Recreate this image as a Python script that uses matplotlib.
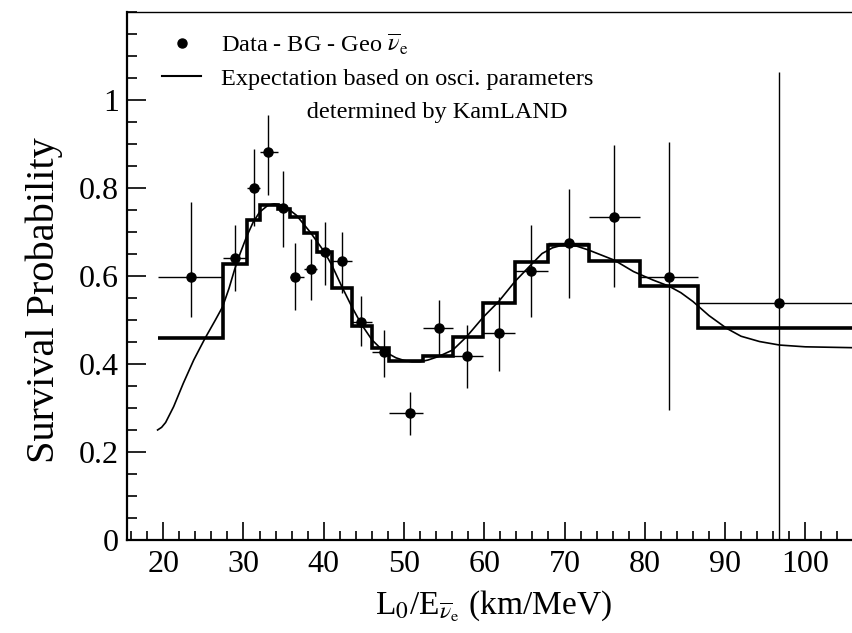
import matplotlib
matplotlib.use("Agg")
import matplotlib.pyplot as plt
import numpy as np
from matplotlib.lines import Line2D
from matplotlib.ticker import MultipleLocator

plt.rcParams['font.family'] = ['Liberation Serif', 'DejaVu Serif']
plt.rcParams['mathtext.fontset'] = 'stix'

# ---- data points (Data - BG - Geo) ----
data_x = [23.4, 29.0, 31.3, 33.1, 34.9, 36.4, 38.4, 40.2, 42.3, 44.7,
          47.5, 50.8, 54.3, 57.9, 61.8, 65.8, 70.5, 76.2, 83.0, 96.7]
data_y = [0.597, 0.640, 0.800, 0.881, 0.754, 0.598, 0.617, 0.655, 0.633, 0.496,
          0.427, 0.288, 0.481, 0.417, 0.470, 0.612, 0.674, 0.733, 0.597, 0.538]
data_ylo = [0.507, 0.567, 0.714, 0.784, 0.667, 0.523, 0.545, 0.580, 0.561, 0.440,
            0.371, 0.239, 0.420, 0.345, 0.383, 0.507, 0.551, 0.576, 0.295, 0.000]
data_yhi = [0.769, 0.716, 0.889, 0.965, 0.839, 0.675, 0.685, 0.723, 0.700, 0.555,
            0.477, 0.337, 0.545, 0.489, 0.553, 0.716, 0.797, 0.898, 0.905, 1.064]

# ---- binned expectation (step histogram) ----
bin_edges = [19.3, 27.4, 30.4, 32.0, 34.3, 35.8, 37.5, 39.1, 41.0, 43.5, 46.0,
             48.1, 52.4, 56.1, 59.9, 63.8, 68.0, 73.0, 79.4, 86.6, 110.0]
bin_vals = [0.458, 0.628, 0.728, 0.762, 0.752, 0.735, 0.697, 0.655, 0.572, 0.486,
            0.436, 0.407, 0.417, 0.462, 0.539, 0.631, 0.670, 0.634, 0.577, 0.482]

# ---- smooth expectation curve ----
curve_x = [19.3, 19.8, 20.3, 21.3, 22.5, 23.8, 25.2, 26.5, 27.4, 28.2, 28.9, 29.6,
           30.4, 31.2, 32.0, 33.0, 33.8, 34.6, 35.4, 36.6, 38.3, 40.0, 41.0,
           42.2, 43.5, 44.7, 46.0, 47.0, 48.0, 49.0, 50.0, 51.0, 52.0, 53.0,
           54.3, 56.1, 57.8, 59.9, 61.8, 63.8, 65.8, 67.2, 68.5, 69.5, 70.3,
           71.5, 73.0, 76.2, 78.6, 81.0, 83.0, 84.5, 86.0, 88.0, 90.2, 92.0,
           94.3, 96.8, 100.0, 106.0]
curve_y = [0.250, 0.256, 0.267, 0.303, 0.356, 0.409, 0.458, 0.500, 0.530, 0.572,
           0.615, 0.652, 0.690, 0.722, 0.745, 0.760, 0.764, 0.762, 0.755, 0.738,
           0.700, 0.657, 0.625, 0.578, 0.530, 0.490, 0.455, 0.437, 0.424, 0.414,
           0.408, 0.405, 0.405, 0.409, 0.417, 0.432, 0.462, 0.507, 0.542, 0.587,
           0.625, 0.651, 0.664, 0.669, 0.670, 0.668, 0.659, 0.636, 0.610, 0.591,
           0.577, 0.562, 0.542, 0.510, 0.481, 0.463, 0.451, 0.443, 0.439, 0.437]

x_ticks = [20, 30, 40, 50, 60, 70, 80, 90, 100]
y_ticks = [0, 0.2, 0.4, 0.6, 0.8, 1.0]
y_ticklabels = ['0', '0.2', '0.4', '0.6', '0.8', '1']

fig = plt.figure(figsize=(8.53, 6.33), dpi=100)
ax = fig.add_axes([0.149, 0.147, 0.86, 0.834])

# histogram
ax.stairs(bin_vals, bin_edges, baseline=None, color='black', linewidth=2.6, zorder=3)
# curve
ax.plot(curve_x, curve_y, color='black', linewidth=1.2, zorder=2)
# data with error bars
dx = np.array(data_x)
lo_edges = np.array(bin_edges[:-1])
hi_edges = np.array(bin_edges[1:])
xerr = [dx - lo_edges, hi_edges - dx]
dy = np.array(data_y)
yerr = [dy - np.array(data_ylo), np.array(data_yhi) - dy]
ax.errorbar(dx, dy, xerr=xerr, yerr=yerr, fmt='o', color='black',
            markersize=6.5, elinewidth=1.0, capsize=0, zorder=4)

ax.set_xlim(15.5, 106.9)
ax.set_ylim(0, 1.2)
ax.set_xticks(x_ticks)
ax.set_yticks(y_ticks)
ax.set_yticklabels(y_ticklabels)
ax.xaxis.set_minor_locator(MultipleLocator(2))
ax.yaxis.set_minor_locator(MultipleLocator(0.05))
ax.tick_params(which='both', direction='in', top=False, right=False,
               labelsize=23, width=1.2)
ax.tick_params(axis='y', which='major', length=14, pad=6)
ax.tick_params(axis='y', which='minor', length=7)
ax.tick_params(axis='x', which='major', length=13, pad=7)
ax.tick_params(axis='x', which='minor', length=6.5)
for s in ['left', 'bottom']:
    ax.spines[s].set_linewidth(1.6)
ax.spines['top'].set_linewidth(1.0)
ax.spines['right'].set_visible(False)

ax.set_xlabel(r'L$_0$/E$_{\overline{\nu}_\mathrm{e}}$ (km/MeV)', fontsize=24, labelpad=7)
ax.set_ylabel('Survival Probability', fontsize=29)
ax.yaxis.set_label_coords(-0.088, 0.455)

handles = [Line2D([], [], marker='o', color='black', linestyle='none', markersize=6.5),
           Line2D([], [], color='black', linewidth=1.5),
           Line2D([], [], linestyle='none')]
labels = [r'Data - BG - Geo $\overline{\nu}_\mathrm{e}$',
          'Expectation based on osci. parameters',
          '              determined by KamLAND']
ax.legend(handles, labels, loc='upper left', bbox_to_anchor=(0.025, 0.995),
          frameon=False, fontsize=17.5, handlelength=1.6, handletextpad=0.8,
          labelspacing=0.45, borderpad=0.2)

fig.savefig('out.png', dpi=100)
